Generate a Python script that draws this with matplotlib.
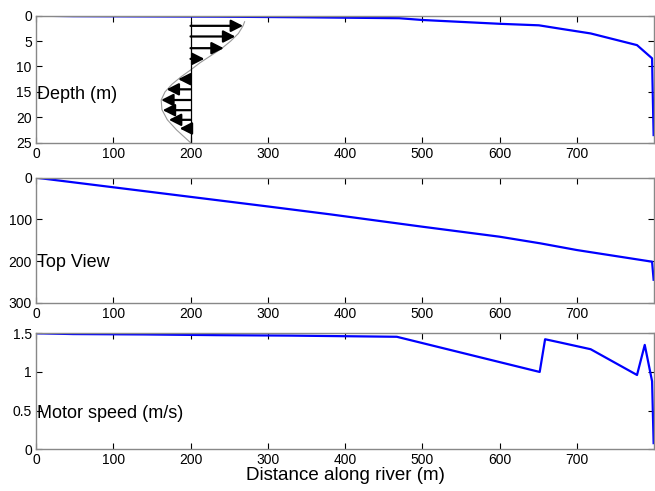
import matplotlib
matplotlib.use('Agg')
import matplotlib.pyplot as plt

plt.rcParams['font.family'] = ['Liberation Sans', 'DejaVu Sans']

# river bed depth along the path
depth_dist = [0, 48, 140, 235, 330, 470, 500, 600, 651, 680, 718, 778, 797.5, 798, 799.5]
depth_m = [0, 0.1, 0.15, 0.2, 0.3, 0.5, 0.85, 1.6, 1.9, 2.6, 3.5, 5.8, 8.4, 12.7, 23.5]

# velocity profile sketch at x = 200
prof_x = [270, 268, 262, 252, 240, 225, 212, 200, 188, 176, 167, 162, 163, 170, 182, 200]
prof_depth = [1.2, 2.0, 3.5, 5.0, 6.5, 8.0, 9.3, 10.7, 12.0, 13.5, 15.0, 16.6, 18.5, 20.5, 22.5, 25]
arrow_depth = [2.0, 4.1, 6.4, 8.5, 12.5, 14.5, 16.6, 18.6, 20.5, 22.2]
arrow_tip = [268, 258, 243, 218, 184, 169, 162, 164, 172, 186]
prof_base = 200

# plan view of the track
top_dist = [0, 100, 200, 300, 381, 500, 600, 653, 700, 797.5, 799.5]
top_y = [0, 23, 46, 69, 88, 117.6, 141.6, 157.6, 173.6, 201.6, 245]

# motor speed along the path
speed_dist = [0, 48, 140, 234, 330, 467, 652, 659, 679, 718, 778, 788, 797.5, 799.5]
speed = [1.5, 1.49, 1.485, 1.476, 1.47, 1.455, 1.0, 1.423, 1.38, 1.294, 0.961, 1.35, 0.88, 0.08]

xticks = [0, 100, 200, 300, 400, 500, 600, 700]

fig = plt.figure(figsize=(6.55, 4.91), dpi=100)
ax1 = fig.add_axes([0.055, 0.7094, 0.9435, 0.2587])
ax2 = fig.add_axes([0.055, 0.3835, 0.9435, 0.2546])
ax3 = fig.add_axes([0.055, 0.0849, 0.9435, 0.2363])

blue = '#0000ff'

for ax in (ax1, ax2, ax3):
    ax.set_xlim(0, 800)
    ax.set_xticks(xticks)
    ax.tick_params(direction='in', length=4, width=0.8, top=True, right=True,
                   labelsize=10, pad=3, colors='black')
    for s in ax.spines.values():
        s.set_color('#888888')
        s.set_linewidth(1.0)

# depth panel
ax1.plot(depth_dist, depth_m, color=blue, lw=1.6)
ax1.plot(prof_x, prof_depth, color='#999999', lw=0.8)
ax1.plot([prof_base, prof_base], [1.2, 25], color='black', lw=0.9)
for d, tip in zip(arrow_depth, arrow_tip):
    ax1.annotate('', xy=(tip, d), xytext=(prof_base, d),
                 arrowprops=dict(arrowstyle='-|>,head_length=0.55,head_width=0.28',
                                 color='black', lw=1.6, shrinkA=0, shrinkB=0,
                                 mutation_scale=13))
ax1.set_ylim(25, 0)
ax1.set_yticks([0, 5, 10, 15, 20, 25])
ax1.text(0.002, 0.383, 'Depth (m)', transform=ax1.transAxes, fontsize=13,
         ha='left', va='center')

# top view panel
ax2.plot(top_dist, top_y, color=blue, lw=1.6)
ax2.set_ylim(300, 0)
ax2.set_yticks([0, 100, 200, 300])
ax2.text(0.002, 0.323, 'Top View', transform=ax2.transAxes, fontsize=13,
         ha='left', va='center')

# speed panel
ax3.plot(speed_dist, speed, color=blue, lw=1.6)
ax3.set_ylim(0, 1.5)
ax3.set_yticks([0, 0.5, 1, 1.5])
ax3.set_yticklabels(['0', '0.5', '1', '1.5'])
ax3.text(0.002, 0.31, 'Motor speed (m/s)', transform=ax3.transAxes, fontsize=13,
         ha='left', va='center')
ax3.set_xlabel('Distance along river (m)', fontsize=13.5, labelpad=0)

fig.savefig('out.png', dpi=100)
